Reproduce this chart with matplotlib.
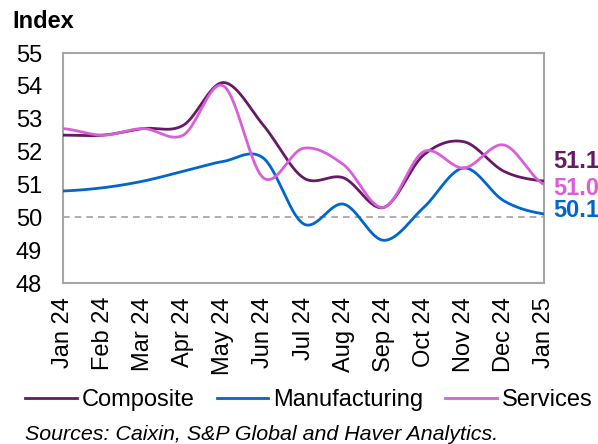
import numpy as np
import matplotlib.pyplot as plt

plt.rcParams['font.family'] = ['Liberation Sans', 'DejaVu Sans']

months = ['Jan 24', 'Feb 24', 'Mar 24', 'Apr 24', 'May 24', 'Jun 24', 'Jul 24',
          'Aug 24', 'Sep 24', 'Oct 24', 'Nov 24', 'Dec 24', 'Jan 25']
composite = [52.5, 52.5, 52.7, 52.8, 54.1, 52.8, 51.2, 51.2, 50.3, 51.9, 52.3, 51.4, 51.1]
manufacturing = [50.8, 50.9, 51.1, 51.4, 51.7, 51.8, 49.8, 50.4, 49.3, 50.3, 51.5, 50.5, 50.1]
services = [52.7, 52.5, 52.7, 52.5, 54.0, 51.2, 52.1, 51.6, 50.3, 52.0, 51.5, 52.2, 51.0]


def smooth(y, n=30):
    # courbe lissée type Catmull-Rom (comme les lignes lissées d'Excel)
    y = np.asarray(y, dtype=float)
    yp = np.concatenate([[y[0]], y, [y[-1]]])
    xs, ys = [], []
    for i in range(len(y) - 1):
        p0, p1, p2, p3 = yp[i], yp[i + 1], yp[i + 2], yp[i + 3]
        c1 = p1 + (p2 - p0) / 6
        c2 = p2 - (p3 - p1) / 6
        t = np.linspace(0, 1, n, endpoint=False)
        ys.append((1 - t) ** 3 * p1 + 3 * (1 - t) ** 2 * t * c1 + 3 * (1 - t) * t ** 2 * c2 + t ** 3 * p2)
        xs.append(i + t)
    xs.append([len(y) - 1])
    ys.append([y[-1]])
    return np.concatenate(xs), np.concatenate(ys)


fig = plt.figure(figsize=(5.98, 4.44), dpi=100)
ax = fig.add_axes([63 / 598, 1 - 283 / 444, 481 / 598, 230 / 444])

c_comp = '#661a66'
c_manu = '#0066cc'
c_serv = '#d95fd9'

ax.axhline(50, color='#a0a0a0', lw=1.2, ls=(0, (4, 3)), zorder=1)
x, y = smooth(manufacturing)
ax.plot(x, y, color=c_manu, lw=2, label='Manufacturing', zorder=3)
x, y = smooth(composite)
ax.plot(x, y, color=c_comp, lw=2, label='Composite', zorder=3)
x, y = smooth(services)
ax.plot(x, y, color=c_serv, lw=2, label='Services', zorder=4)

ax.set_xlim(0, len(months) - 1)
ax.set_ylim(48, 55)
ax.set_yticks(range(48, 56))
ax.set_xticks(range(len(months)))
ax.set_xticklabels(months, rotation=90)
ax.tick_params(axis='both', length=0, labelsize=17)
ax.tick_params(axis='y', pad=15)
ax.tick_params(axis='x', pad=10)
for s in ax.spines.values():
    s.set_color('#a6a6a6')
    s.set_linewidth(1.5)

# valeurs de fin de série
xl = 12.22
ax.text(xl, 51.50, '%.1f' % composite[-1], color=c_comp, fontsize=17,
        fontweight='bold', va='baseline', ha='left', clip_on=False)
ax.text(xl, 50.68, '%.1f' % services[-1], color=c_serv, fontsize=17,
        fontweight='bold', va='baseline', ha='left', clip_on=False)
ax.text(xl, 50.01, '%.1f' % manufacturing[-1], color=c_manu, fontsize=17,
        fontweight='bold', va='baseline', ha='left', clip_on=False)

fig.text(12 / 598, 1 - 22 / 444, 'Index', fontsize=17, fontweight='bold', va='center', ha='left')

h, l = ax.get_legend_handles_labels()
order = [1, 0, 2]
fig.legend([h[i] for i in order], [l[i] for i in order], loc='center left', ncol=3,
           bbox_to_anchor=(25 / 598, 1 - 400 / 444), frameon=False, fontsize=17,
           handlelength=2.2, handletextpad=0.2, columnspacing=0.93, borderaxespad=0,
           borderpad=0)

fig.text(25 / 598, 1 - 434 / 444, 'Sources: Caixin, S&P Global and Haver Analytics.',
         fontsize=15.4, style='italic', va='center', ha='left')

fig.savefig('out.png', dpi=100)
